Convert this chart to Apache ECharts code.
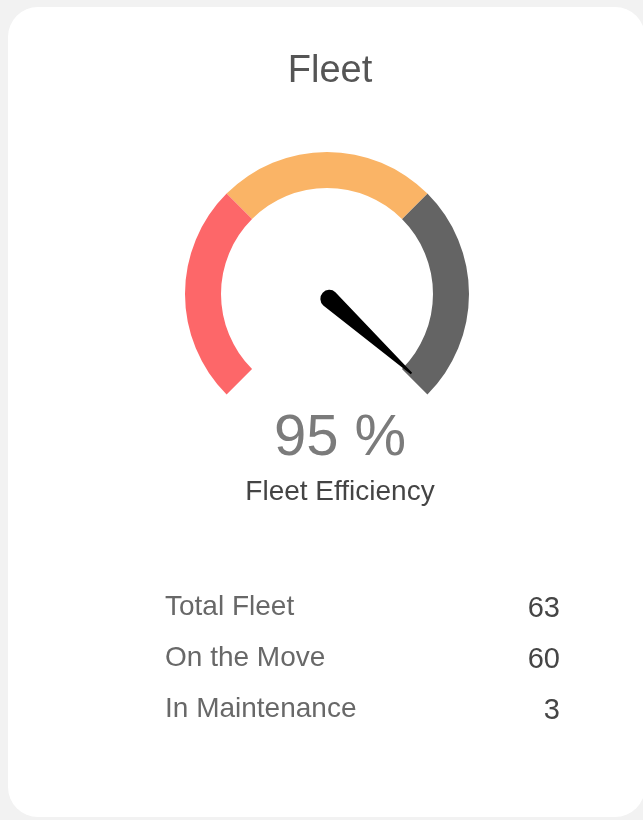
<!DOCTYPE html>
<html>
<head>
<meta charset="utf-8">
<title>Fleet</title>
<script src="https://cdn.jsdelivr.net/npm/echarts@6/dist/echarts.min.js"></script>
<style>
  html, body { margin: 0; padding: 0; background: #f2f2f2; }
  #chart { width: 643px; height: 820px; }
</style>
</head>
<body>
<div id="chart"></div>
<script>
// values
const efficiency = [95]            // text under the gauge, %
const needle = [99]                // where the needle actually sits on the 0-100 scale
const bandStops = [1 / 3, 2 / 3, 1]
const bandColors = ['#fd6769', '#fab466', '#646464']
const rowLabels = ['Total Fleet', 'On the Move', 'In Maintenance']
const rowValues = [63, 60, 3]

const font = 'Liberation Sans, Arial, sans-serif'
const chart = echarts.init(document.getElementById('chart'))

// table rows under the gauge
const rows = []
rowLabels.forEach((name, i) => {
  const y = 607 + i * 51
  rows.push({
    type: 'text', x: 165, y: y,
    style: { text: name, fill: '#686868', font: '28px ' + font, textAlign: 'left', textVerticalAlign: 'middle' }
  })
  rows.push({
    type: 'text', x: 560, y: y + 2,
    style: { text: String(rowValues[i]), fill: '#454545', font: '29px ' + font, textAlign: 'right', textVerticalAlign: 'middle' }
  })
})

chart.setOption({
  backgroundColor: '#f2f2f2',
  animation: false,
  graphic: [
    // card
    { type: 'rect', z: -1, shape: { x: 8, y: 7, width: 637, height: 810, r: 30 }, style: { fill: '#ffffff' } },
    { type: 'text', x: 330, y: 72, style: { text: 'Fleet', fill: '#555555', font: '38px ' + font, textAlign: 'center', textVerticalAlign: 'middle' } }
  ].concat(rows),
  series: [
    {
      type: 'gauge',
      center: [327, 294],
      radius: 142,
      startAngle: 225,
      endAngle: -45,
      min: 0,
      max: 100,
      axisLine: {
        lineStyle: {
          width: 36,
          color: bandStops.map((s, i) => [s, bandColors[i]])
        }
      },
      splitLine: { show: false },
      axisTick: { show: false },
      axisLabel: { show: false },
      anchor: { show: false },
      pointer: {
        icon: 'path://M8,0 L10,0 L18,111 A9,9 0 0 1 0,111 Z',
        width: 18,
        length: 120,
        offsetCenter: [2, 4],
        keepAspect: false,
        itemStyle: { color: '#000000' }
      },
      title: {
        offsetCenter: [13, 198],
        fontSize: 28,
        color: '#444444',
        fontFamily: font
      },
      detail: {
        offsetCenter: [13, 145],
        fontSize: 58,
        fontWeight: 'normal',
        color: '#7b7b7b',
        fontFamily: font,
        formatter: () => efficiency[0] + ' %'
      },
      data: [{ value: needle[0], name: 'Fleet Efficiency' }]
    }
  ]
})

window.onresize = () => {
  chart.resize()
}
</script>
</body>
</html>
